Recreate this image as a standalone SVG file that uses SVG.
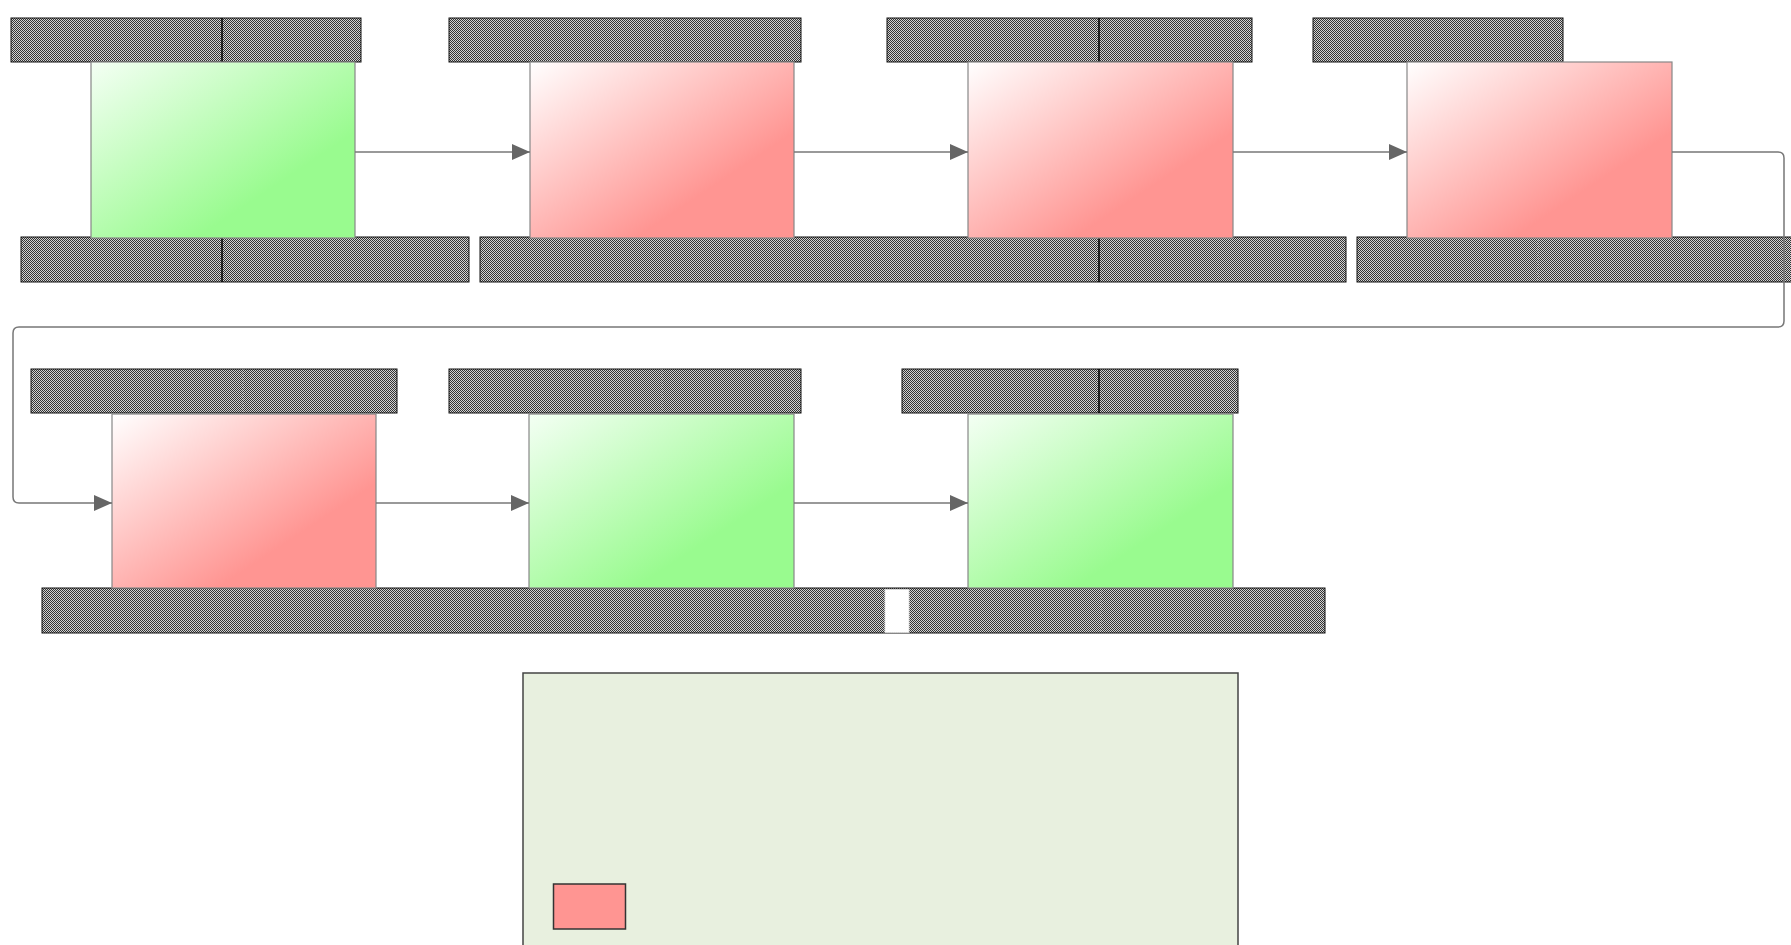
<svg xmlns="http://www.w3.org/2000/svg" width="1791" height="945" viewBox="0 0 1791 945">
<style>
.bar{fill:url(#dots);stroke:#111;stroke-width:1}
.div{stroke:#000;stroke-width:1.5}
.dot{stroke:#eee;stroke-width:1;stroke-dasharray:1 2;stroke-opacity:0.45}
.red{fill:url(#gr);stroke:#888;stroke-width:1.2}
.green{fill:url(#gg);stroke:#888;stroke-width:1.2}
.conn{fill:none;stroke:#777;stroke-width:1.5}
</style>
<defs>
<pattern id="dots" width="2" height="2" patternUnits="userSpaceOnUse">
<rect width="2" height="2" fill="#d2d2d2"/>
<rect width="1" height="1" fill="#333"/>
<rect x="1" y="1" width="1" height="1" fill="#333"/>
</pattern>
<linearGradient id="gr" x1="0" y1="0" x2="1" y2="1">
<stop offset="0" stop-color="#ffffff"/>
<stop offset="0.7" stop-color="#ff9592"/>
<stop offset="1" stop-color="#ff9592"/>
</linearGradient>
<linearGradient id="gg" x1="0" y1="0" x2="1" y2="1">
<stop offset="0" stop-color="#f4fff4"/>
<stop offset="0.7" stop-color="#99fb8f"/>
<stop offset="1" stop-color="#99fb8f"/>
</linearGradient>
<marker id="arr" markerWidth="18" markerHeight="18" refX="18" refY="9" orient="auto" markerUnits="userSpaceOnUse">
<path d="M0,1 L18,9 L0,17 Z" fill="#666"/>
</marker>
</defs>

<g id="bars">
<rect class="bar" x="11" y="18" width="350" height="44"/>
<line class="div" x1="222" y1="18" x2="222" y2="62"/>
<rect class="bar" x="449" y="18" width="352" height="44"/>
<line class="dot" x1="662" y1="18" x2="662" y2="62"/>
<rect class="bar" x="887" y="18" width="365" height="44"/>
<line class="div" x1="1099" y1="18" x2="1099" y2="62"/>
<rect class="bar" x="1313" y="18" width="250" height="44"/>

<rect class="bar" x="21" y="237" width="448" height="45"/>
<line class="div" x1="222" y1="237" x2="222" y2="282"/>
<rect class="bar" x="480" y="237" width="866" height="45"/>
<line class="div" x1="1099" y1="237" x2="1099" y2="282"/>
<rect class="bar" x="1357" y="237" width="440" height="45"/>
<line class="dot" x1="1538" y1="237" x2="1538" y2="282"/>

<rect class="bar" x="31" y="369" width="366" height="44"/>
<line class="dot" x1="243" y1="369" x2="243" y2="413"/>
<rect class="bar" x="449" y="369" width="352" height="44"/>
<line class="dot" x1="662" y1="369" x2="662" y2="413"/>
<rect class="bar" x="902" y="369" width="336" height="44"/>
<line class="div" x1="1099" y1="369" x2="1099" y2="413"/>

<rect class="bar" x="42" y="588" width="1283" height="45"/>
<rect x="885" y="589.5" width="24" height="43" fill="#fff" stroke="#ddd" stroke-width="0.8"/>
<line class="dot" x1="1101" y1="588" x2="1101" y2="633"/>
</g>

<g id="node1"><rect class="green" x="91" y="62" width="264" height="176"/></g>
<g id="node2"><rect class="red" x="530" y="62" width="264" height="176"/></g>
<g id="node3"><rect class="red" x="968" y="62" width="265" height="176"/></g>
<g id="node4"><rect class="red" x="1407" y="62" width="265" height="176"/></g>
<g id="node5"><rect class="red" x="112" y="414" width="264" height="174"/></g>
<g id="node6"><rect class="green" x="529" y="414" width="265" height="174"/></g>
<g id="node7"><rect class="green" x="968" y="414" width="265" height="174"/></g>

<g id="connectors">
<path class="conn" d="M355,152 H530" marker-end="url(#arr)"/>
<path class="conn" d="M794,152 H968" marker-end="url(#arr)"/>
<path class="conn" d="M1233,152 H1407" marker-end="url(#arr)"/>
<path class="conn" d="M1672,152 H1778 Q1784,152 1784,158 V321 Q1784,327 1778,327 H19 Q13,327 13,333 V497 Q13,503 19,503 H112" marker-end="url(#arr)"/>
<path class="conn" d="M376,503 H529" marker-end="url(#arr)"/>
<path class="conn" d="M794,503 H968" marker-end="url(#arr)"/>
</g>

<g id="legend">
<rect x="523" y="673" width="715" height="280" fill="#e8f0df" stroke="#444" stroke-width="1.5"/>
<rect x="553.5" y="884" width="72" height="45" fill="#ff9592" stroke="#333" stroke-width="1.5"/>
</g>
</svg>
